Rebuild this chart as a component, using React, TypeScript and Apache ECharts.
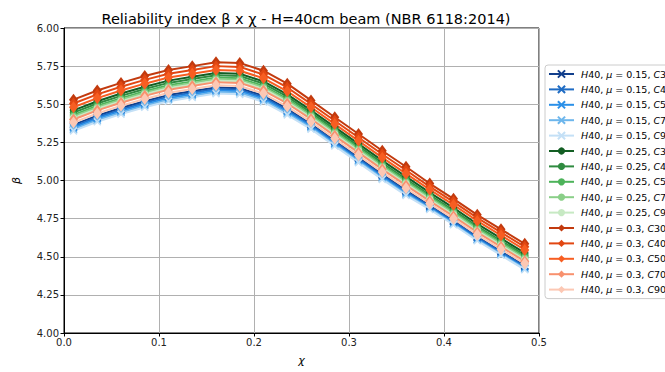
import React, { useEffect, useRef } from "react";
import * as echarts from "echarts";

const chi = [0.01, 0.035, 0.06, 0.085, 0.11, 0.135, 0.16, 0.185, 0.21, 0.235, 0.26, 0.285, 0.31, 0.335, 0.36, 0.385, 0.41, 0.435, 0.46, 0.485];

const b015C30 = [5.365, 5.425, 5.475, 5.52, 5.56, 5.585, 5.61, 5.605, 5.555, 5.47, 5.37, 5.26, 5.15, 5.04, 4.935, 4.835, 4.735, 4.63, 4.535, 4.44];
const b015C40 = [5.355, 5.415, 5.465, 5.51, 5.55, 5.575, 5.60, 5.595, 5.545, 5.46, 5.363, 5.253, 5.143, 5.033, 4.928, 4.83, 4.73, 4.625, 4.53, 4.435];
const b015C50 = [5.345, 5.405, 5.455, 5.50, 5.54, 5.565, 5.59, 5.585, 5.535, 5.45, 5.353, 5.243, 5.133, 5.023, 4.918, 4.82, 4.72, 4.615, 4.52, 4.425];
const b015C70 = [5.335, 5.395, 5.445, 5.49, 5.53, 5.555, 5.58, 5.575, 5.525, 5.44, 5.345, 5.235, 5.125, 5.015, 4.91, 4.815, 4.715, 4.61, 4.515, 4.42];
const b015C90 = [5.325, 5.385, 5.435, 5.48, 5.52, 5.545, 5.57, 5.565, 5.515, 5.43, 5.337, 5.227, 5.117, 5.007, 4.902, 4.81, 4.71, 4.605, 4.51, 4.415];

const b025C30 = [5.46, 5.52, 5.57, 5.615, 5.655, 5.68, 5.705, 5.70, 5.65, 5.565, 5.46, 5.35, 5.24, 5.13, 5.025, 4.92, 4.82, 4.715, 4.62, 4.525];
const b025C40 = [5.445, 5.505, 5.555, 5.60, 5.64, 5.665, 5.69, 5.685, 5.635, 5.55, 5.445, 5.335, 5.225, 5.115, 5.01, 4.905, 4.805, 4.70, 4.605, 4.51];
const b025C50 = [5.43, 5.49, 5.54, 5.585, 5.625, 5.65, 5.675, 5.67, 5.62, 5.535, 5.433, 5.323, 5.213, 5.103, 4.998, 4.895, 4.795, 4.69, 4.595, 4.50];
const b025C70 = [5.42, 5.48, 5.53, 5.575, 5.615, 5.64, 5.665, 5.66, 5.61, 5.525, 5.423, 5.313, 5.203, 5.093, 4.988, 4.885, 4.785, 4.68, 4.585, 4.49];
const b025C90 = [5.41, 5.47, 5.52, 5.565, 5.605, 5.63, 5.655, 5.65, 5.60, 5.515, 5.413, 5.303, 5.193, 5.083, 4.978, 4.875, 4.775, 4.67, 4.575, 4.48];

const b030C30 = [5.53, 5.59, 5.64, 5.685, 5.725, 5.75, 5.775, 5.77, 5.72, 5.635, 5.525, 5.415, 5.305, 5.195, 5.09, 4.98, 4.88, 4.775, 4.68, 4.585];
const b030C40 = [5.505, 5.565, 5.615, 5.66, 5.70, 5.725, 5.75, 5.745, 5.695, 5.61, 5.502, 5.392, 5.282, 5.172, 5.067, 4.96, 4.86, 4.755, 4.66, 4.565];
const b030C50 = [5.48, 5.54, 5.59, 5.635, 5.675, 5.70, 5.725, 5.72, 5.67, 5.585, 5.48, 5.37, 5.26, 5.15, 5.045, 4.94, 4.84, 4.735, 4.64, 4.545];
const b030C70 = [5.40, 5.46, 5.51, 5.555, 5.595, 5.62, 5.645, 5.64, 5.59, 5.505, 5.403, 5.293, 5.183, 5.073, 4.968, 4.865, 4.765, 4.66, 4.565, 4.47];
const b030C90 = [5.38, 5.44, 5.49, 5.535, 5.575, 5.60, 5.625, 5.62, 5.57, 5.485, 5.385, 5.275, 5.165, 5.055, 4.95, 4.85, 4.75, 4.645, 4.55, 4.455];

const mus = ["0.15", "0.25", "0.3"];
const classes = ["C30", "C40", "C50", "C70", "C90"];
const groups = [
  [b015C30, b015C40, b015C50, b015C70, b015C90],
  [b025C30, b025C40, b025C50, b025C70, b025C90],
  [b030C30, b030C40, b030C50, b030C70, b030C90],
];
const palettes = [
  ["#123f8c", "#1f6cc4", "#2b90e8", "#6db6ec", "#c4e0f6"],
  ["#135e23", "#2f8b40", "#4db35a", "#8acf88", "#c7e9c3"],
  ["#c23a0e", "#e24712", "#f75e22", "#f8916e", "#fcc8b4"],
];
const xTicks = [0, 0.1, 0.2, 0.3, 0.4, 0.5];
const yTicks = [4.0, 4.25, 4.5, 4.75, 5.0, 5.25, 5.5, 5.75, 6.0];

const CROSS = "path://M0,0L10,10M10,0L0,10";

export default function App() {
  const ref = useRef<HTMLDivElement>(null);
  useEffect(() => {
    if (!ref.current) return;
    const chart = echarts.init(ref.current, null, { renderer: "svg" });
    const font = "DejaVu Sans";
    const series: any[] = [];
    const names: string[] = [];
    groups.forEach((g, gi) => {
      g.forEach((vals, ci) => {
        const name = `H40, μ = ${mus[gi]}, ${classes[ci]}`;
        names.push(name);
        const color = palettes[gi][ci];
        const symbol = gi === 0 ? CROSS : gi === 1 ? "circle" : "diamond";
        const symbolSize = gi === 0 ? 7 : gi === 1 ? 7.5 : [9, 12];
        series.push({
          type: "line",
          name,
          data: chi.map((x, i) => [x, vals[i]]),
          symbol,
          symbolSize,
          showSymbol: true,
          lineStyle: { color, width: 2 },
          itemStyle: { color, borderColor: color, borderWidth: gi === 0 ? 1.6 : 0 },
          emphasis: { disabled: true },
        });
      });
    });
    const option: any = {
      animation: false,
      backgroundColor: "#fff",
      textStyle: { fontFamily: font },
      title: {
        text: "Reliability index β x χ - H=40cm beam (NBR 6118:2014)",
        left: 301,
        textAlign: "center",
        top: 6,
        textStyle: { fontFamily: font, fontSize: 14.5, fontWeight: "normal", color: "#000" },
      },
      grid: {
        left: 64,
        right: 126,
        top: 28,
        bottom: 39,
        show: true,
        borderColor: "#000",
        borderWidth: 1,
        backgroundColor: "#fff",
      },
      legend: {
        data: names,
        orient: "vertical",
        left: 545,
        top: 65,
        padding: [4, 4, 4, 3],
        itemWidth: 25,
        itemHeight: 9,
        itemGap: 5.4,
        borderColor: "#cccccc",
        borderWidth: 1,
        borderRadius: 3,
        backgroundColor: "#fff",
        formatter: (n: string) => {
          const m = n.match(/H40, μ = ([0-9.]+), C(\d+)/);
          if (!m) return n;
          return `{i|H}40, {i|μ}{s|=}${m[1]}, {i|C}${m[2]}`;
        },
        textStyle: {
          fontFamily: font,
          fontSize: 9.5,
          color: "#000",
          padding: [0, 0, 0, 2],
          rich: {
            i: { fontFamily: font, fontSize: 9.5, fontStyle: "italic", color: "#000" },
            s: { fontFamily: font, fontSize: 9.5, color: "#000", padding: [0, 3, 0, 3] },
          },
        },
      },
      xAxis: {
        type: "value",
        min: 0,
        max: 0.5,
        interval: 0.1,
        name: "χ",
        nameLocation: "middle",
        nameGap: 22,
        nameTextStyle: { fontFamily: font, fontSize: 11, fontStyle: "italic", color: "#000" },
        axisLine: { show: true, onZero: false, lineStyle: { color: "#000", width: 1 } },
        axisTick: { show: true, length: 3.5, lineStyle: { color: "#000" } },
        axisLabel: {
          fontFamily: font,
          fontSize: 10,
          color: "#222",
          margin: 4,
          formatter: (v: number) => (xTicks.includes(Math.round(v * 10) / 10) ? v.toFixed(1) : ""),
        },
        splitLine: { show: true, lineStyle: { color: "#b0b0b0", width: 1 } },
      },
      yAxis: {
        type: "value",
        min: 4,
        max: 6,
        interval: 0.25,
        name: "β",
        nameLocation: "middle",
        nameGap: 42,
        nameRotate: 90,
        nameTextStyle: { fontFamily: font, fontSize: 11, fontStyle: "italic", color: "#000" },
        axisLine: { show: true, onZero: false, lineStyle: { color: "#000", width: 1 } },
        axisTick: { show: true, length: 3.5, lineStyle: { color: "#000" } },
        axisLabel: {
          fontFamily: font,
          fontSize: 10,
          color: "#222",
          margin: 5,
          formatter: (v: number) => (yTicks.some((t) => Math.abs(t - v) < 1e-6) ? v.toFixed(2) : ""),
        },
        splitLine: { show: true, lineStyle: { color: "#b0b0b0", width: 1 } },
      },
      series,
    };
    chart.setOption(option);
    return () => chart.dispose();
  }, []);
  return (
    <div
      ref={ref}
      style={{ position: "fixed", left: 0, top: 0, width: 665, height: 372, background: "#fff" }}
    />
  );
}
